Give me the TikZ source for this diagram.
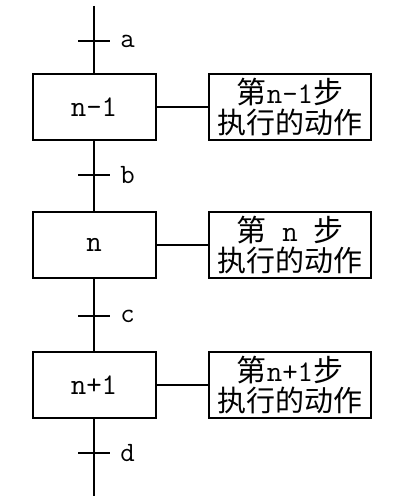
\documentclass[tikz,border=0pt]{standalone}
\usepackage{fontspec}
\newfontfamily\cjk{Noto Sans CJK SC}
\usetikzlibrary{positioning}
\tikzstyle{stepbox}=[draw,line width=1pt,minimum width=61.5pt,minimum height=33pt,inner sep=0pt,font=\ttfamily\fontsize{15}{16}\selectfont]
\tikzstyle{actbox}=[draw,line width=1pt,minimum width=81pt,minimum height=33pt,inner sep=0pt,align=center,font=\ttfamily\fontsize{15}{16}\selectfont]
\tikzstyle{link}=[line width=1pt]
\tikzstyle{cond}=[right,inner sep=0pt,font=\ttfamily\fontsize{14}{14}\selectfont]
\def\T{8pt}

\begin{document}
\begin{tikzpicture}[x=0.5pt,y=-0.5pt]
  \useasboundingbox (0,0) rectangle (404,496);

  % STEPS
  \node[stepbox] (s1) at (94,107) {n-1};
  \node[stepbox] (s2) at (94,245) {n};
  \node[stepbox] (s3) at (94,385) {n+1};

  % ACTIONS
  \node[actbox] (a1) at (290,107) {{\cjk 第}n-1{\cjk 步}\\[-1pt]{\cjk\fontsize{14.5}{16}\selectfont 执行的动作}};
  \node[actbox] (a2) at (290,245) {{\cjk 第} n {\cjk 步}\\[-1pt]{\cjk\fontsize{14.5}{16}\selectfont 执行的动作}};
  \node[actbox] (a3) at (290,385) {{\cjk 第}n+1{\cjk 步}\\[-1pt]{\cjk\fontsize{14.5}{16}\selectfont 执行的动作}};
  \foreach \i in {1,2,3}
    \draw[link] (s\i) -- (a\i);

  % SEQUENCE LINE
  \coordinate (top) at (94,6);
  \coordinate (bot) at (94,496);
  \draw[link] (top) -- (s1.north);
  \draw[link] (s1.south) -- (s2.north);
  \draw[link] (s2.south) -- (s3.north);
  \draw[link] (s3.south) -- (bot);

  % TRANSITIONS
  \coordinate (ta) at (94,41);
  \coordinate (tb) at (94,175);
  \coordinate (tc) at (94,316);
  \coordinate (td) at (94,453);
  \foreach \c in {a,b,c,d}{
    \draw[link] ([xshift=-\T]t\c) -- ([xshift=\T]t\c);
    \node[cond] (l\c) at ([xshift=13pt]t\c) {\c};
  }
\end{tikzpicture}
\end{document}
